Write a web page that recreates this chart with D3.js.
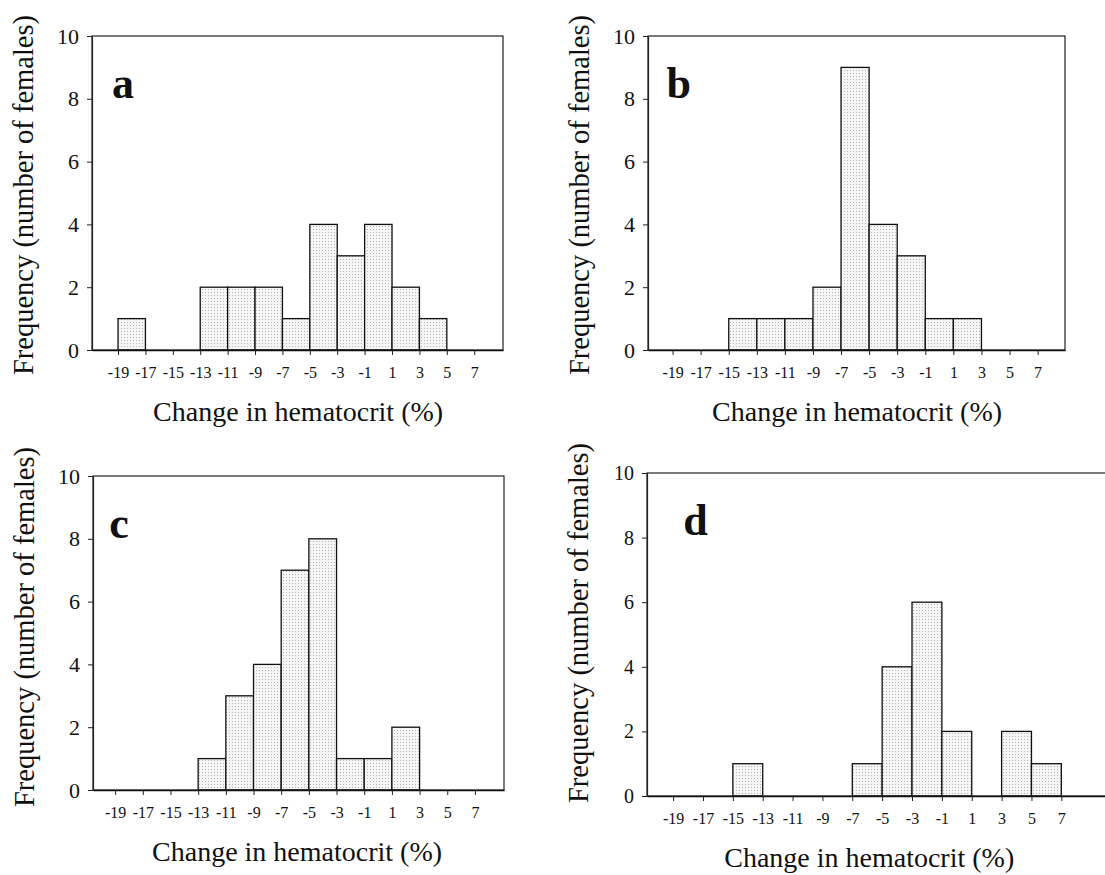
<!DOCTYPE html>
<html>
<head>
<meta charset="utf-8">
<script src="https://cdn.jsdelivr.net/npm/d3@7"></script>
<style>
  body { margin: 0; background: #fff; }
  text { font-family: "Liberation Serif", "Times New Roman", serif; fill: #111; }
</style>
</head>
<body>
<svg id="chart" width="1105" height="875"></svg>
<script>
// bin lower edges (width 2)
const binStarts = [-19, -17, -15, -13, -11, -9, -7, -5, -3, -1, 1, 3, 5];
const xTickVals = [-19, -17, -15, -13, -11, -9, -7, -5, -3, -1, 1, 3, 5, 7];
const yTickVals = [0, 2, 4, 6, 8, 10];

const countsA = [1, 0, 0, 2, 2, 2, 1, 4, 3, 4, 2, 1, 0];
const countsB = [0, 0, 1, 1, 1, 2, 9, 4, 3, 1, 1, 0, 0];
const countsC = [0, 0, 0, 1, 3, 4, 7, 8, 1, 1, 2, 0, 0];
const countsD = [0, 0, 1, 0, 0, 0, 1, 4, 6, 2, 0, 2, 1];

const panelLetters = ['a', 'b', 'c', 'd'];
const xTitle = 'Change in hematocrit (%)';
const yTitle = 'Frequency (number of females)';

// layout of each panel (pixel box + x domain)
const panels = [
  {counts: countsA, left: 92, right: 503, top: 36, bottom: 350, dom: [-20.9, 9.1], ty: 195},
  {counts: countsB, left: 648, right: 1065, top: 36, bottom: 350, dom: [-20.75, 8.95], ty: 195},
  {counts: countsC, left: 93, right: 504, top: 476, bottom: 790, dom: [-20.6, 9.1], ty: 627},
  {counts: countsD, left: 647, right: 1130, top: 473, bottom: 796, dom: [-20.75, 11.6], ty: 623}
];

const svg = d3.select('#chart');

const defs = svg.append('defs');
const pat = defs.append('pattern')
  .attr('id', 'stipple')
  .attr('patternUnits', 'userSpaceOnUse')
  .attr('width', 3)
  .attr('height', 3);
pat.append('rect').attr('width', 3).attr('height', 3).attr('fill', '#f5f5f5');
pat.append('rect').attr('x', 1).attr('y', 1).attr('width', 1).attr('height', 1).attr('fill', '#b5b5b5');

panels.forEach((p, i) => {
  const x = d3.scaleLinear().domain(p.dom).range([p.left, p.right]);
  const y = d3.scaleLinear().domain([0, 10]).range([p.bottom, p.top]);
  const g = svg.append('g');

  const bins = binStarts.map((b, k) => ({x0: b, x1: b + 2, n: p.counts[k]}))
    .filter(d => d.n > 0);

  g.selectAll('rect.bar')
    .data(bins)
    .enter()
    .append('rect')
    .attr('class', 'bar')
    .attr('x', d => x(d.x0))
    .attr('y', d => y(d.n))
    .attr('width', d => x(d.x1) - x(d.x0))
    .attr('height', d => y(0) - y(d.n))
    .attr('fill', 'url(#stipple)')
    .attr('stroke', '#111')
    .attr('stroke-width', 1.3);

  // frame
  g.append('rect')
    .attr('x', p.left)
    .attr('y', p.top)
    .attr('width', p.right - p.left)
    .attr('height', p.bottom - p.top)
    .attr('fill', 'none')
    .attr('stroke', '#222')
    .attr('stroke-width', 1.2);

  // y axis
  const yAxis = d3.axisLeft(y).tickValues(yTickVals).tickSize(5).tickPadding(8).tickSizeOuter(0);
  const ya = g.append('g').attr('transform', `translate(${p.left},0)`).call(yAxis);
  ya.select('.domain').attr('stroke', '#222').attr('stroke-width', 1.2);
  ya.selectAll('line').attr('stroke', '#222');
  ya.selectAll('text')
    .style('font-family', '"Liberation Serif", serif')
    .style('font-size', i === 3 ? '20px' : '22px')
    .attr('fill', '#111');

  // x axis
  const xAxis = d3.axisBottom(x).tickValues(xTickVals).tickSize(5).tickPadding(12).tickSizeOuter(0);
  const xa = g.append('g').attr('transform', `translate(0,${p.bottom})`).call(xAxis);
  xa.select('.domain').attr('stroke', '#111').attr('stroke-width', 1.6);
  xa.selectAll('line').attr('stroke', '#222');
  xa.selectAll('text')
    .style('font-family', '"Liberation Serif", serif')
    .style('font-size', '16px')
    .attr('fill', '#111')
    .text(d => d < 0 ? '-' + Math.abs(d) : d);

  // titles
  const cx = (x(-19) + x(7)) / 2;
  g.append('text')
    .attr('x', cx + 2)
    .attr('y', p.bottom + 71)
    .attr('text-anchor', 'middle')
    .style('font-size', '28px')
    .text(xTitle);

  g.append('text')
    .attr('transform', `translate(${p.left - 59},${p.ty}) rotate(-90)`)
    .attr('text-anchor', 'middle')
    .style('font-size', '28.5px')
    .text(yTitle);

  g.append('text')
    .attr('x', x(-19) - 6 + (i === 3 ? 16 : 0))
    .attr('y', p.top + 62)
    .style('font-size', '44px')
    .style('font-weight', 'bold')
    .text(panelLetters[i]);
});
</script>
</body>
</html>
